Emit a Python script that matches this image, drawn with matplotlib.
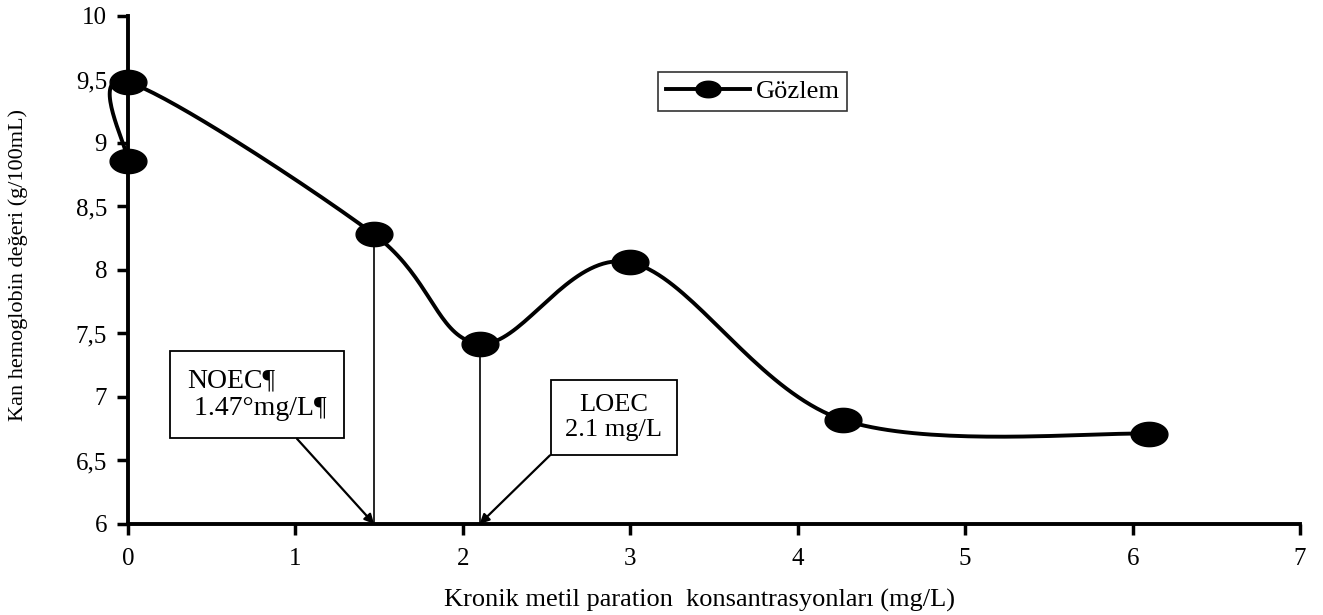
import matplotlib.pyplot as plt
from matplotlib.path import Path
from matplotlib.lines import Line2D
import numpy as np

plt.rcParams.update({
    "font.family": "serif",
    "font.serif": ["Liberation Serif", "DejaVu Serif"],
    "font.size": 13,
})

# observations, in the order they are joined by the smoothed line
konsantrasyon = [0.0, 0.0, 1.47, 2.1, 3.0, 4.27, 6.1]
hemoglobin = [8.86, 9.48, 8.28, 7.42, 8.06, 6.82, 6.71]

noec_x = 1.47
loec_x = 2.1


def smooth_line(xs, ys, sx, sy, n=40):
    # Excel-style smoothed line: cubic Bezier through the points,
    # control points from neighbouring points (tension 1/6), done in
    # pixel-like units so the curve shape matches the screen aspect
    p = np.column_stack([np.array(xs) * sx, np.array(ys) * sy])
    out = []
    for i in range(len(p) - 1):
        p0 = p[i - 1] if i > 0 else p[i]
        p1, p2 = p[i], p[i + 1]
        p3 = p[i + 2] if i + 2 < len(p) else p[i + 1]
        c1 = p1 + (p2 - p0) / 6
        c2 = p2 - (p3 - p1) / 6
        t = np.linspace(0, 1, n)[:, None]
        seg = ((1 - t) ** 3) * p1 + 3 * ((1 - t) ** 2) * t * c1 + 3 * (1 - t) * t ** 2 * c2 + t ** 3 * p2
        out.append(seg)
    c = np.vstack(out)
    return c[:, 0] / sx, c[:, 1] / sy


# flattened ellipse marker like the Excel one
th = np.linspace(0, 2 * np.pi, 60)
ellipse = Path(np.column_stack([np.cos(th), 0.66 * np.sin(th)]), closed=True)

fig = plt.figure(figsize=(13.23, 6.15), dpi=100)
ax = fig.add_axes([0.0967, 0.148, 0.886, 0.826])

cx, cy = smooth_line(konsantrasyon, hemoglobin, 167.4, 254.0)
ax.plot(cx, cy, color="black", linewidth=2.8, clip_on=False, zorder=3)
ax.plot(konsantrasyon, hemoglobin, linestyle="none", marker=ellipse, color="black",
        markersize=26.5, clip_on=False, zorder=4)

# drop lines for NOEC / LOEC
for xv in (noec_x, loec_x):
    yv = hemoglobin[konsantrasyon.index(xv)]
    ax.plot([xv, xv], [6, yv], color="black", linewidth=1.2, zorder=2)

box = dict(boxstyle="square,pad=0.55", fc="white", ec="black", lw=1.3)
ax.annotate("NOEC¶\n 1.47°mg/L¶", xy=(noec_x, 6.0), xytext=(0.77, 7.02),
            fontsize=20, ha="center", va="center", multialignment="left",
            bbox=dict(boxstyle="square,pad=0.62", fc="white", ec="black", lw=1.3),
            linespacing=1.15,
            arrowprops=dict(arrowstyle="-|>", color="black", lw=1.6,
                            mutation_scale=14, shrinkA=0, shrinkB=0))
ax.annotate("LOEC\n2.1 mg/L", xy=(loec_x, 6.0), xytext=(2.9, 6.84),
            fontsize=19, ha="center", va="center", bbox=box, linespacing=1.15,
            arrowprops=dict(arrowstyle="-|>", color="black", lw=1.6,
                            mutation_scale=14, shrinkA=0, shrinkB=0,
                            relpos=(0.0, 0.0)))

ax.set_xlim(0, 7)
ax.set_ylim(6, 10)
ax.set_xticks(range(0, 8))
ax.set_yticks(np.arange(6, 10.01, 0.5))
ax.set_yticklabels(["6", "6,5", "7", "7,5", "8", "8,5", "9", "9,5", "10"])

for s in ("top", "right"):
    ax.spines[s].set_visible(False)
for s in ("left", "bottom"):
    ax.spines[s].set_linewidth(2.8)
ax.tick_params(axis="both", direction="out", length=8, width=2.5, labelsize=18)
ax.tick_params(axis="x", pad=9)
ax.tick_params(axis="y", pad=7)

ax.set_xlabel("Kronik metil paration  konsantrasyonları (mg/L)", fontsize=19)
ax.xaxis.set_label_coords(0.488, -0.128)
ax.set_ylabel("Kan hemoglobin değeri (g/100mL)", fontsize=16)
ax.yaxis.set_label_coords(-0.085, 0.51)

proxy = Line2D([], [], color="black", linewidth=2.8, marker=ellipse, markersize=18)
leg = ax.legend([proxy], ["Gözlem"], loc="center", bbox_to_anchor=(0.533, 0.852),
                fontsize=19, frameon=True, fancybox=False, edgecolor="black",
                handlelength=3.2, handletextpad=0.2, borderpad=0.3)
leg.get_frame().set_linewidth(1.2)

plt.savefig("out.png", dpi=100)
plt.close()
